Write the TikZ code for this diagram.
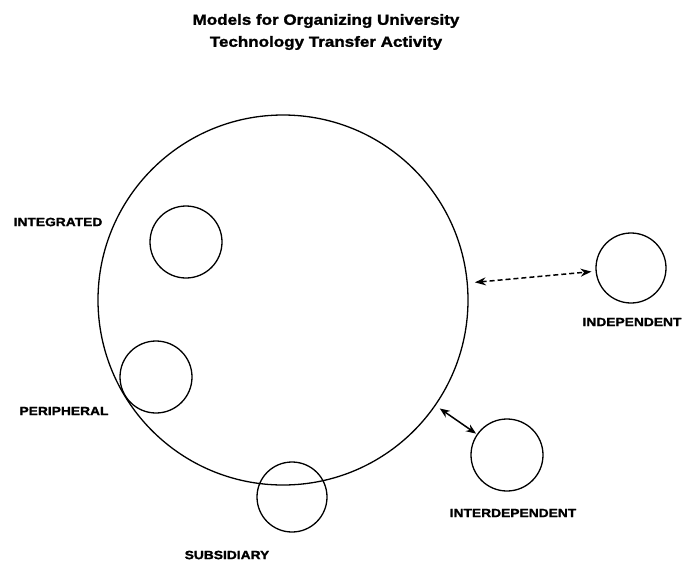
\documentclass[tikz,border=0pt]{standalone}
\usepackage{fontspec}
\usepackage{tikz}
\usetikzlibrary{positioning,arrows.meta}
\newfontfamily\figfont[FakeStretch=1.15, BoldFeatures={FakeBold=1.5}]{Liberation Sans}
\tikzstyle{unit}=[circle, draw=black, line width=1.3pt, inner sep=0pt]
\tikzstyle{label_txt}=[font=\figfont\bfseries\fontsize{12}{14}\selectfont, inner sep=0pt]
\tikzstyle{title_txt}=[font=\figfont\bfseries\fontsize{14.8}{22}\selectfont, align=center, inner sep=0pt]
\tikzstyle{looseLink}=[{Stealth[length=11pt,width=8pt]}-{Stealth[length=11pt,width=8pt]}, line width=1.5pt, dash pattern=on 5pt off 3pt]
\tikzstyle{tightLink}=[{Stealth[length=10pt,width=8pt]}-{Stealth[length=10pt,width=8pt]}, line width=1.5pt]

\begin{document}
\begin{tikzpicture}[x=1pt, y=-1pt]
    \useasboundingbox (0,0) rectangle (682,563);

    % Title
    \node [style=title_txt] (Title) at (326, 32) {Models for Organizing University\\Technology Transfer Activity};

    % University and its units
    \node [style=unit, minimum size=370pt] (Univ) at (283, 300) {};
    \node [style=unit, minimum size=72pt] (Integrated) at (186, 242) {};
    \node [style=unit, minimum size=72pt] (Peripheral) at (156, 377) {};
    \node [style=unit, minimum size=70pt] (Subsidiary) at (292, 497) {};
    \node [style=unit, minimum size=70pt] (Independent) at (631, 268) {};
    \node [style=unit, minimum size=72pt] (Interdependent) at (507, 455) {};

    % Labels
    \node [style=label_txt] (IntegratedText) at (58, 222) {INTEGRATED};
    \node [style=label_txt] (PeripheralText) at (64, 411) {PERIPHERAL};
    \node [style=label_txt] (SubsidiaryText) at (227, 555) {SUBSIDIARY};
    \node [style=label_txt] (IndependentText) at (632, 322) {INDEPENDENT};
    \node [style=label_txt] (InterdependentText) at (513, 513) {INTERDEPENDENT};

    % Links
    \draw [style=looseLink, shorten <=7pt, shorten >=4pt] (Univ) -- (Independent);
    \draw [style=tightLink, shorten <=5pt, shorten >=1pt] (Univ) -- (Interdependent);
\end{tikzpicture}
\end{document}
